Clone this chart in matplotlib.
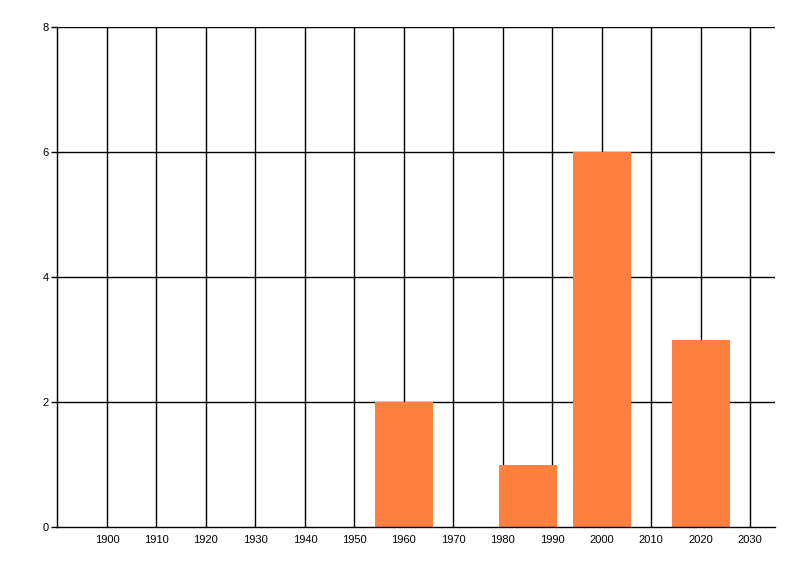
import matplotlib
matplotlib.use("Agg")
import matplotlib.pyplot as plt

years = [1960, 1985, 2000, 2020]
counts = [2, 1, 6, 3]
xticks = list(range(1900, 2040, 10))
yticks = [0, 2, 4, 6, 8]

plt.rcParams['font.family'] = ['Liberation Sans', 'DejaVu Sans']
fig = plt.figure(figsize=(8, 5.76), dpi=100)
ax = fig.add_axes([57/800, 1-527/576, (775-57)/800, 500/576])

for x in xticks:
    ax.axvline(x, color='black', lw=1, zorder=1)
for y in yticks[1:]:
    ax.axhline(y, color='black', lw=1, zorder=1)

ax.bar(years, counts, width=11.7, color='#FF7F3F', zorder=2)

ax.set_xlim(1889.9, 2035)
ax.set_ylim(0, 8)
ax.set_xticks(xticks)
ax.set_yticks(yticks)
ax.tick_params(axis='x', length=0, labelsize=8, pad=6)
ax.tick_params(axis='y', length=4, width=1, labelsize=8, pad=2)
for s in ['top', 'right']:
    ax.spines[s].set_visible(False)
for s in ['left', 'bottom']:
    ax.spines[s].set_linewidth(1)

fig.savefig('out.png', dpi=100)
